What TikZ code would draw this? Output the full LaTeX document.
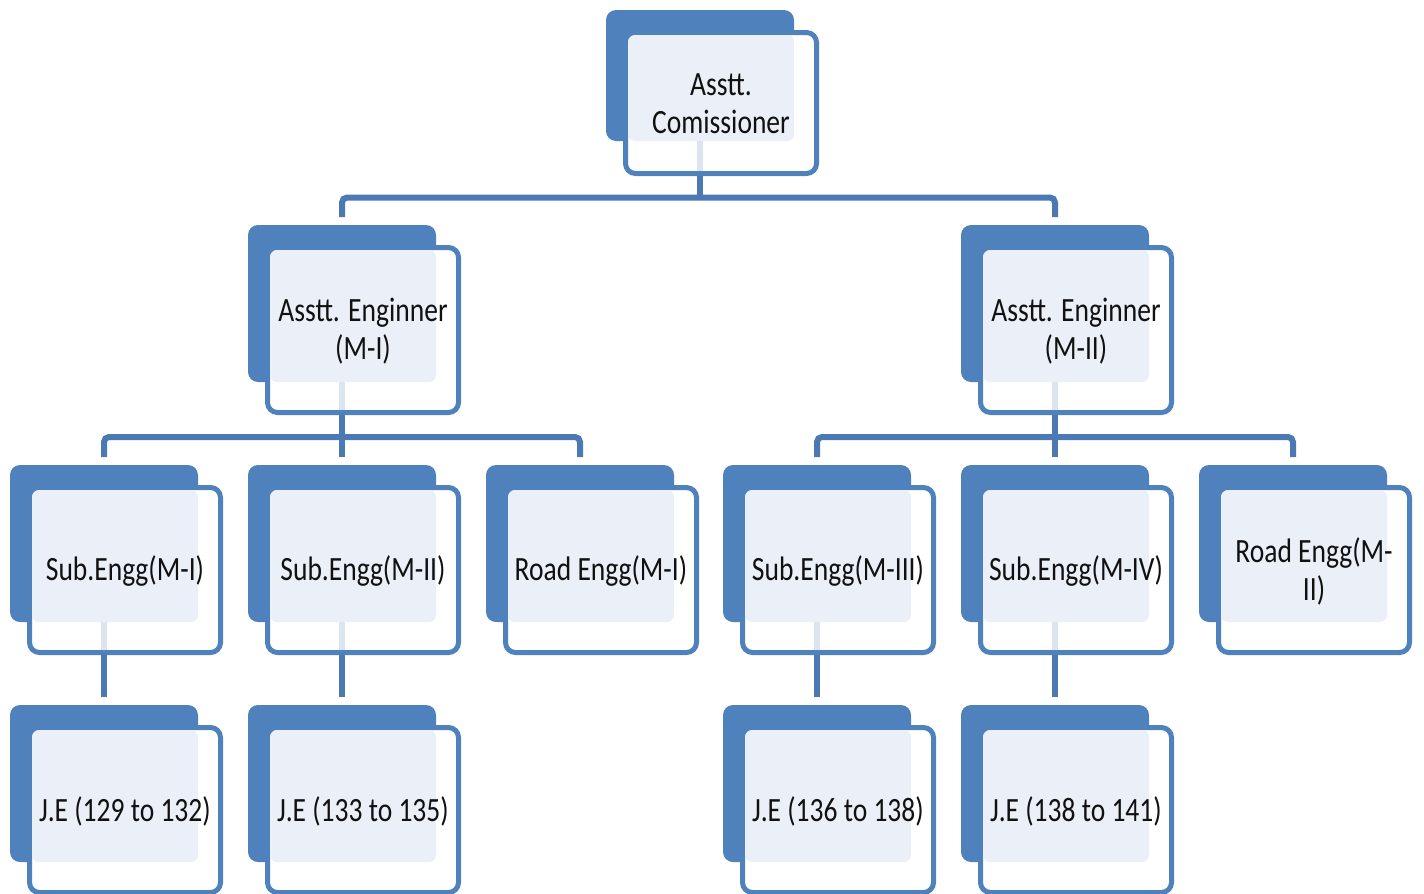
\documentclass[tikz,border=0pt]{standalone}
\usepackage{fontspec}
\newfontfamily\cf{Carlito}[FakeStretch=0.81]
\usetikzlibrary{calc}
\definecolor{boxblue}{HTML}{4F81BD}
\definecolor{connblue}{HTML}{4A79B4}
\definecolor{lightfill}{HTML}{EBF0F8}
\definecolor{faintline}{HTML}{DCE4F0}
\definecolor{txtcol}{HTML}{111111}
\tikzset{
  backbox/.style={fill=boxblue, draw=none, rounded corners=10pt, minimum width=188pt, inner sep=0pt, outer sep=0pt},
  frontbox/.style={fill=white, draw=boxblue, line width=5pt, rounded corners=10pt, minimum width=191pt, inner sep=0pt},
  txt/.style={font=\cf\fontsize{34}{38}\selectfont, text=txtcol, align=center, inner sep=0pt},
  conn/.style={draw=connblue, line width=6pt, rounded corners=5pt},
  faint/.style={draw=faintline, line width=6pt}
}
\newcommand\obox[6]{%
  \node[backbox, minimum height=#4pt, anchor=north west] (#1b) at (#2,#3) {};
  \node[frontbox, minimum height=#5pt-5pt, anchor=north west] (#1) at (#2+17,#3+20) {};
  \fill[lightfill, rounded corners=7pt] ($(#1.north west)+(5,5)$) rectangle (#1b.south east);
  \node[txt] (#1t) at ($(#1.center)+(0,1)$) {#6};
}
\begin{document}
\begin{tikzpicture}[x=1pt,y=-1pt]
\useasboundingbox (0,0) rectangle (1424,894);
% level 1
\obox{root}{606}{10}{131}{146}{Asstt.\\Comissioner}
% level 2
\obox{aeA}{248}{225}{157}{170}{Asstt. Enginner\\(M-I)}
\obox{aeB}{961}{225}{157}{170}{Asstt. Enginner\\(M-II)}
% level 3
\obox{sA}{10}{465}{157}{170}{Sub.Engg(M-I)}
\obox{sB}{248}{465}{157}{170}{Sub.Engg(M-II)}
\obox{rA}{486}{465}{157}{170}{Road Engg(M-I)}
\obox{sC}{723}{465}{157}{170}{Sub.Engg(M-III)}
\obox{sD}{961}{465}{157}{170}{Sub.Engg(M-IV)}
\obox{rB}{1199}{465}{157}{170}{Road Engg(M-\\II)}
% level 4
\obox{jA}{10}{705}{157}{170}{J.E (129 to 132)}
\obox{jB}{248}{705}{157}{170}{J.E (133 to 135)}
\obox{jC}{723}{705}{157}{170}{J.E (136 to 138)}
\obox{jD}{961}{705}{157}{170}{J.E (138 to 141)}
% faint see-through segments
\foreach \n in {root,aeA,aeB,sA,sB,sC,sD}
  \draw[faint] (\n b.south) -- ([yshift=5pt]\n b.south |- \n.south);
% connectors
\coordinate (bus1) at ($(rootb.south |- root.south)+(0,21.5)$);
\draw[conn] (rootb.south |- root.south) -- (bus1);
\draw[conn] ([yshift=8pt]aeAb.north) |- (aeBb.north |- bus1) -- ([yshift=8pt]aeBb.north);
\coordinate (bus2) at ($(aeAb.south |- aeA.south)+(0,22)$);
\coordinate (bus3) at ($(aeBb.south |- aeB.south)+(0,22)$);
\draw[conn] (aeAb.south |- aeA.south) -- ([yshift=8pt]sBb.north);
\draw[conn] ([yshift=8pt]sAb.north) |- (rAb.north |- bus2) -- ([yshift=8pt]rAb.north);
\draw[conn] (aeBb.south |- aeB.south) -- ([yshift=8pt]sDb.north);
\draw[conn] ([yshift=8pt]sCb.north) |- (rBb.north |- bus3) -- ([yshift=8pt]rBb.north);
\draw[conn] (sAb.south |- sA.south) -- ([yshift=8pt]jAb.north);
\draw[conn] (sBb.south |- sB.south) -- ([yshift=8pt]jBb.north);
\draw[conn] (sCb.south |- sC.south) -- ([yshift=8pt]jCb.north);
\draw[conn] (sDb.south |- sD.south) -- ([yshift=8pt]jDb.north);
\end{tikzpicture}
\end{document}
